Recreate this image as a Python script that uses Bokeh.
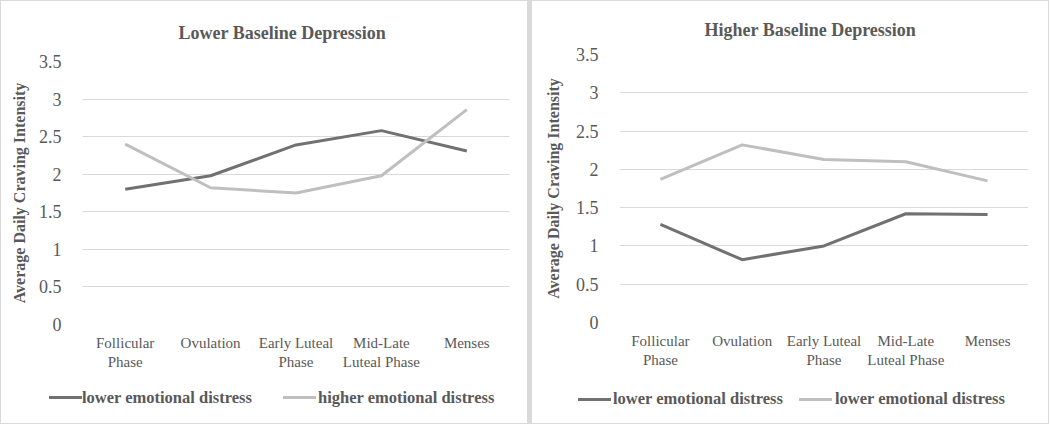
from bokeh.plotting import figure
from bokeh.models import Range1d, FixedTicker, LinearAxis, Div
from bokeh.layouts import row, column
from bokeh.embed import file_html
from bokeh.resources import INLINE

# ---- data ----
categories = ["Follicular Phase", "Ovulation", "Early Luteal Phase",
              "Mid-Late Luteal Phase", "Menses"]
tick_labels_line1 = ["Follicular", "Ovulation", "Early Luteal", "Mid-Late", "Menses"]
tick_labels_line2 = ["Phase", "", "Phase", "Luteal Phase", ""]
y_ticks = [0, 0.5, 1, 1.5, 2, 2.5, 3, 3.5]
y_tick_labels = ["0", "0.5", "1", "1.5", "2", "2.5", "3", "3.5"]

left_title = "Lower Baseline Depression"
left_low_distress = [1.80, 1.98, 2.39, 2.58, 2.31]
left_high_distress = [2.40, 1.82, 1.75, 1.98, 2.86]
left_labels = ["lower emotional distress", "higher emotional distress"]

right_title = "Higher Baseline Depression"
right_low_distress = [1.28, 0.82, 1.00, 1.42, 1.41]
right_second = [1.87, 2.32, 2.13, 2.10, 1.85]
right_labels = ["lower emotional distress", "lower emotional distress"]

y_label = "Average Daily Craving Intensity"

DARK = "#717171"
LIGHT = "#bfbfbf"
TEXT = "#595959"
GRID = "#d9d9d9"
BORDER = "#d9d9d9"
FONT = "Liberation Serif"
MAIN_H = 374
LEG_H = 50

# category slots on the x scale: category i is centred at i + 0.5
cat_centres = [i + 0.5 for i in range(len(categories))]


def make_xaxis(labels, standoff):
    ax = LinearAxis(ticker=FixedTicker(ticks=cat_centres))
    ax.major_label_overrides = {c: l for c, l in zip(cat_centres, labels)}
    ax.axis_line_color = None
    ax.major_tick_line_color = None
    ax.minor_tick_line_color = None
    ax.major_tick_out = 0
    ax.major_tick_in = 0
    ax.major_label_standoff = standoff
    ax.major_label_text_font = FONT
    ax.major_label_text_font_size = "15px"
    ax.major_label_text_color = TEXT
    return ax


def legend_html(labels, sw1, tx1, sw2, tx2, sw_top, tx_top):
    def item(color, label, sw, tx):
        return (f'<span style="position:absolute;left:{sw}px;top:{sw_top}px;'
                f'width:33px;height:3px;background:{color};"></span>'
                f'<span style="position:absolute;left:{tx}px;top:{tx_top}px;'
                f'line-height:20px;white-space:nowrap;">{label}</span>')
    return (f'<div style="position:relative;width:100%;height:{LEG_H - 1}px;'
            f"font-family:'{FONT}';font-weight:bold;font-size:16.5px;color:{TEXT};\">"
            + item(DARK, labels[0], sw1, tx1) + item(LIGHT, labels[1], sw2, tx2)
            + '</div>')


def make_panel(title, s1, s2, labels, width, frame_left, frame_w, top, frame_h,
               title_offset, title_standoff, ylab_standoff, leg_pos, bl):
    p = figure(x_range=Range1d(0, len(categories)), y_range=Range1d(0, 3.5),
               width=width, height=MAIN_H,
               min_border_left=frame_left, min_border_right=width - frame_left - frame_w,
               min_border_top=top, min_border_bottom=MAIN_H - top - frame_h,
               x_axis_location=None,
               output_backend="svg", toolbar_location=None,
               styles={"border-top": f"1px solid {BORDER}",
                       "border-right": f"1px solid {BORDER}",
                       "border-left": f"{bl}px solid {BORDER}",
                       "box-sizing": "border-box"})
    p.outline_line_color = None
    p.background_fill_color = "white"
    p.border_fill_color = "white"

    p.title.text = title
    p.title.text_font = FONT
    p.title.text_font_size = "18px"
    p.title.text_font_style = "bold"
    p.title.text_color = TEXT
    p.title.align = "left"
    p.title.offset = title_offset
    p.title.standoff = title_standoff

    p.xgrid.grid_line_color = None
    p.ygrid.grid_line_color = GRID
    p.ygrid.grid_line_width = 1

    ya = p.yaxis[0]
    ya.ticker = FixedTicker(ticks=y_ticks)
    ya.major_label_overrides = {t: l for t, l in zip(y_ticks, y_tick_labels)}
    ya.axis_line_color = None
    ya.major_tick_line_color = None
    ya.minor_tick_line_color = None
    ya.major_tick_out = 0
    ya.major_label_standoff = 21
    ya.major_label_text_font = FONT
    ya.major_label_text_font_size = "18px"
    ya.major_label_text_color = TEXT
    ya.axis_label = y_label
    ya.axis_label_text_font = FONT
    ya.axis_label_text_font_size = "16px"
    ya.axis_label_text_font_style = "bold"
    ya.axis_label_text_color = TEXT
    ya.axis_label_standoff = ylab_standoff

    p.add_layout(make_xaxis(tick_labels_line1, 10), "below")
    p.add_layout(make_xaxis(tick_labels_line2, 0), "below")

    p.line(cat_centres, s1, line_color=DARK, line_width=3)
    p.line(cat_centres, s2, line_color=LIGHT, line_width=3)

    leg = Div(text=legend_html(labels, *leg_pos), width=width, height=LEG_H, margin=0,
              styles={"border-bottom": f"1px solid {BORDER}",
                      "border-right": f"1px solid {BORDER}",
                      "border-left": f"{bl}px solid {BORDER}",
                      "box-sizing": "border-box", "background": "white"})
    return column(p, leg, spacing=0)


left = make_panel(left_title, left_low_distress, left_high_distress, left_labels,
                  528, 81, 427, 57, 266, 96, 38, 8, (48, 81, 282, 317, 22, 14), 1)
right = make_panel(right_title, right_low_distress, right_second, right_labels,
                   521, 87, 409, 53, 268, 85, 29, 11, (46, 81, 267, 303, 24, 15), 4)

layout = row(left, right, spacing=0)
open("out.html", "w").write(file_html(layout, INLINE))
